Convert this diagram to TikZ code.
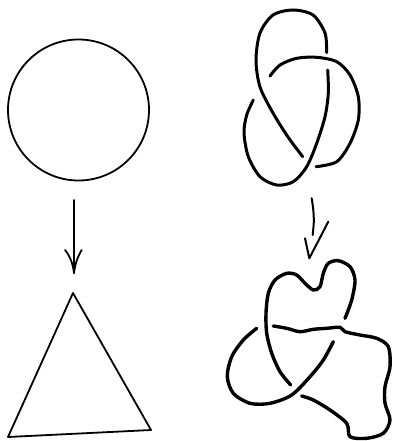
\documentclass[tikz,border=0pt]{standalone}
\begin{document}
\begin{tikzpicture}[x=1pt,y=-1pt,
  thinline/.style={line width=1.8pt,line cap=round,line join=round},
  knotline/.style={line width=3pt,line cap=round,line join=round},
  blobline/.style={line width=3.4pt,line cap=round,line join=round},
  arrowline/.style={line width=2pt,line cap=round,line join=round}]
\useasboundingbox (0,0) rectangle (392,441);
% circle
\draw[thinline] (78.5,110) circle (70.5);
% left arrow
\coordinate (la1) at (74,200);
\coordinate (la2) at (74,273);
\draw[thinline] (la1) -- (la2);
\draw[thinline] (65,250) .. controls (70,256) and (73,264) .. (la2) .. controls (75,264) and (78,256) .. (81.7,250);
% triangle
\draw[thinline] (73,293) -- (8,437) -- (151,430) -- cycle;
% trefoil
\draw[knotline] plot[smooth] coordinates {(326.7,52.7) (325,33) (313,15) (293,10) (273,15) (260,33) (256,60) (260,87) (273,113) (288,137) (302.7,156.7)};
\draw[knotline] plot[smooth] coordinates {(270,76) (280,65) (296.7,58.3) (316.7,57.3) (336.7,61.7) (350,75) (358.3,96.7) (358.3,120) (350,143.3) (336.7,161.7) (316,166.7)};
\draw[knotline] plot[smooth] coordinates {(253.3,100) (246.7,115) (244,133) (248.3,156.7) (260,176.7) (276.7,185) (293.3,181.7) (306.7,166.7) (316.7,143.3) (325,116.7) (328.3,93.3) (327.7,70)};
% right arrow
\coordinate (ra1) at (311.7,198.3);
\coordinate (ra2) at (312.7,235);
\draw[arrowline] plot[smooth] coordinates {(ra1) (313.3,210) (313.8,222) (ra2)};
\draw[arrowline] (305,238.3) -- (309.3,258.3) -- (328.3,221.7);
% deformed knot
\draw[blobline] plot[smooth] coordinates {(345,318.3) (351.7,300) (355,280) (350,266.7) (338.3,260.7) (328.3,263.3) (323.3,273.3) (320,286.7) (313.3,290) (305,283.3) (296.7,275) (286.7,273.3) (275,280) (268.3,293.3) (266,313.3) (266.7,333.3) (271.7,353.3) (280,371.7) (290.7,385)};
\draw[blobline] plot[smooth] coordinates {(273.3,326) (286.7,328.3) (300,331.7) (313.3,329.3) (326.7,328.3) (340,327.3) (345,331.7) (360,335) (376.7,338.3) (388.3,346.7) (390,366.7) (385,386.7) (385,403.3) (390,420) (383.3,433.3) (366.7,438.3) (350,436.7) (346.7,423.3) (330,410) (313.3,400) (301.7,396)};
\draw[blobline] plot[smooth] coordinates {(256.7,328.3) (243.3,340) (231.7,356.7) (227.3,376.7) (233.3,393.3) (250,403.3) (270,403.3) (291.7,395) (310,376.7) (323.3,360) (333.3,341.7)};
\end{tikzpicture}
\end{document}
